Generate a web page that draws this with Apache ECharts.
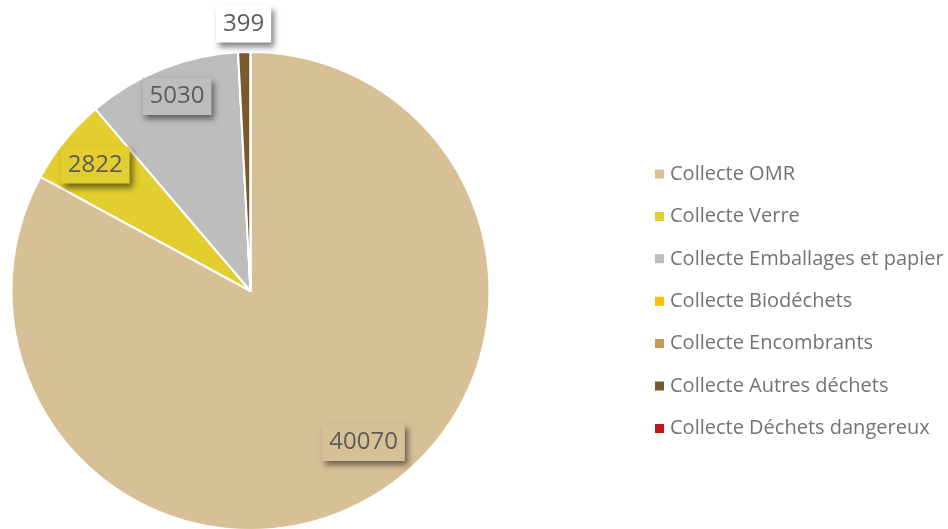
<!DOCTYPE html>
<html>
<head>
<meta charset="utf-8">
<script src="https://cdn.jsdelivr.net/npm/echarts@6/dist/echarts.min.js"></script>
<style>
  html, body { margin: 0; padding: 0; background: #ffffff; }
  #chart { width: 948px; height: 529px; }
</style>
</head>
<body>
<div id="chart"></div>
<script>
// Tonnages collectés par flux
const categories = [
  'Collecte OMR',
  'Collecte Verre',
  'Collecte Emballages et papier',
  'Collecte Biodéchets',
  'Collecte Encombrants',
  'Collecte Autres déchets',
  'Collecte Déchets dangereux'
];
const tonnages = [40070, 2822, 5030, 0, 0, 399, 0];

// Styling
const sliceColors = ['#D8C096', '#E2CE2F', '#BDBDBD', '#FFC000', '#C49A56', '#7A5A2D', '#C0171E'];
const labelBoxColors = ['#D8C096', '#E2CE2F', '#BDBDBD', '#FFC000', '#C49A56', '#FFFFFF', '#C0171E'];
const PIE_CX = 250.5, PIE_CY = 291, PIE_R = 239;
// radial distance of each value label from the centre, and angular nudge (deg)
const labelDistance = [189, 200, 208, 0, 0, 267, 0];
const labelTurn = [-6, 0, 1, 0, 0, 0, 0];

const FONT = '"Open Sans", "Noto Sans", sans-serif';

const chart = echarts.init(document.getElementById('chart'), null, { renderer: 'canvas' });

chart.setOption({
  backgroundColor: '#ffffff',
  animation: false,
  color: sliceColors,
  legend: {
    orient: 'vertical',
    left: 648,
    top: 159,
    itemWidth: 11,
    itemHeight: 11,
    itemGap: 22.4,
    icon: 'rect',
    selectedMode: false,
    textStyle: { fontFamily: FONT, fontSize: 20, color: '#737373', lineHeight: 20 },
    data: categories
  },
  series: [{
    type: 'pie',
    center: [PIE_CX, PIE_CY],
    radius: [0, PIE_R],
    startAngle: 90,
    clockwise: true,
    minShowLabelAngle: 0.5,
    itemStyle: { borderColor: '#ffffff', borderWidth: 2 },
    emphasis: { disabled: true },
    labelLine: { show: false },
    label: {
      show: true,
      position: 'inside',
      formatter: '{c}',
      fontFamily: FONT,
      fontSize: 24,
      color: '#5c5c5c',
      padding: [7, 7, 6, 7],
      shadowColor: 'rgba(0,0,0,0.5)',
      shadowBlur: 6,
      shadowOffsetX: 3,
      shadowOffsetY: 4
    },
    labelLayout: function (p) {
      const i = p.dataIndex;
      const r = p.labelRect;
      const lx = r.x + r.width / 2;
      const ly = r.y + r.height / 2;
      const ang = Math.atan2(ly - PIE_CY, lx - PIE_CX) + labelTurn[i] * Math.PI / 180;
      const d = labelDistance[i];
      return {
        x: PIE_CX + d * Math.cos(ang),
        y: PIE_CY + d * Math.sin(ang),
        align: 'center',
        verticalAlign: 'middle'
      };
    },
    data: categories.map(function (name, i) {
      return {
        name: name,
        value: tonnages[i],
        label: { backgroundColor: labelBoxColors[i], show: tonnages[i] > 0 }
      };
    })
  }]
});
</script>
</body>
</html>
